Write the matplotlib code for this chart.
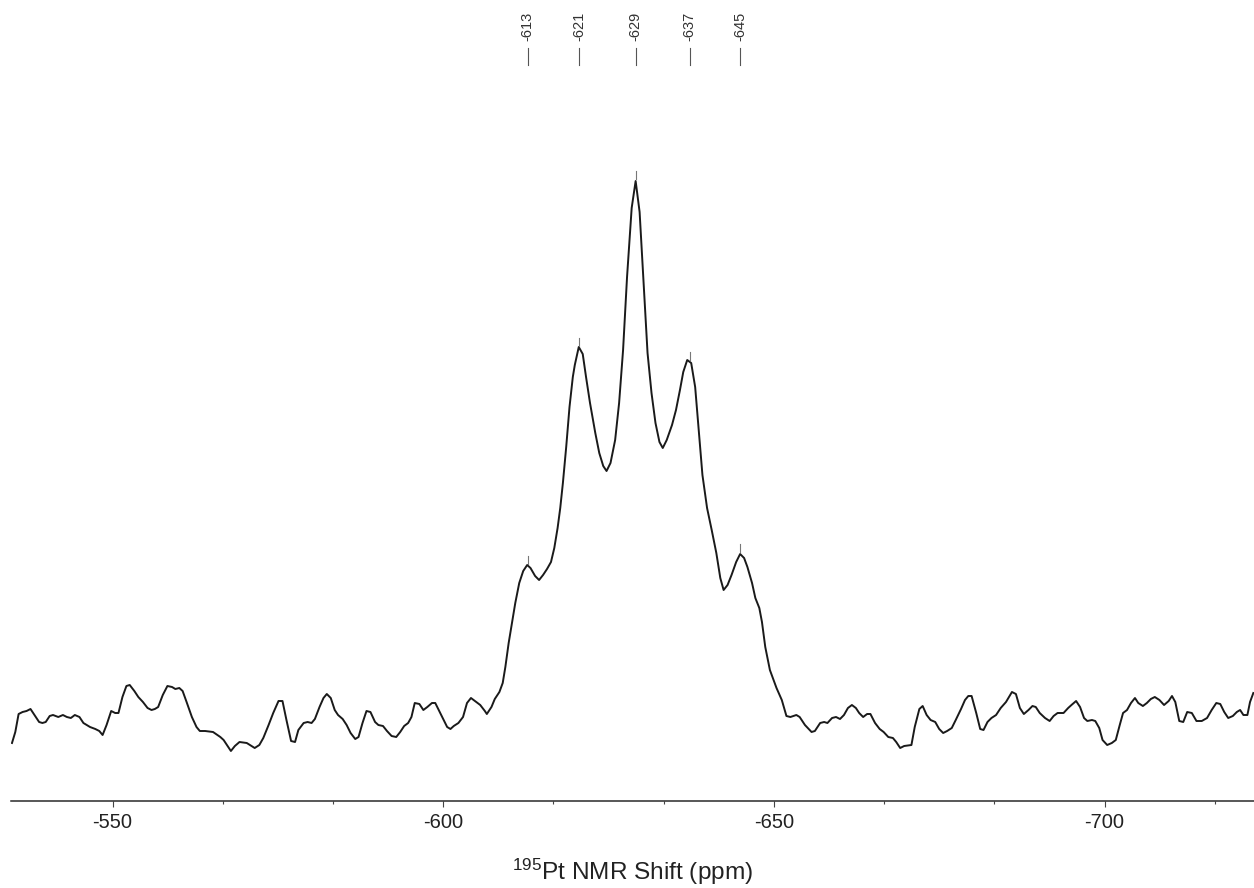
import numpy as np
import matplotlib
matplotlib.use("Agg")
import matplotlib.pyplot as plt
from matplotlib.ticker import MultipleLocator, AutoMinorLocator
from matplotlib.transforms import blended_transform_factory

plt.rcParams['font.family'] = ['Liberation Sans', 'DejaVu Sans']
plt.rcParams['axes.unicode_minus'] = False
plt.rcParams['mathtext.fontset'] = 'custom'
plt.rcParams['mathtext.rm'] = 'Liberation Sans'
plt.rcParams['mathtext.default'] = 'regular'

# ---- data: 195Pt NMR spectrum (chemical shift in ppm, intensity in arbitrary units)
shift_ppm = [
    -534.8, -535.3, -535.8, -536.4, -537.0, -537.6, -538.3, -538.9, -539.4, -539.9,
    -540.5, -541.0, -541.8, -542.5, -543.1, -543.7, -544.3, -545.0, -545.6, -546.6,
    -547.4, -548.0, -548.5, -549.1, -549.8, -550.4, -550.9, -551.5, -552.1, -552.6,
    -553.3, -553.9, -554.6, -555.3, -555.9, -556.4, -556.9, -557.6, -558.3, -559.0,
    -559.5, -560.1, -560.6, -561.2, -562.0, -562.7, -563.2, -564.0, -565.2, -566.3,
    -566.8, -567.3, -567.9, -568.5, -569.2, -570.3, -571.5, -572.2, -572.8, -573.6,
    -574.3, -575.1, -575.7, -576.3, -577.0, -577.6, -578.1, -578.9, -579.5, -580.1,
    -580.6, -581.3, -581.9, -582.4, -583.0, -583.6, -584.1, -584.8, -585.4, -586.0,
    -586.7, -587.2, -587.8, -588.4, -589.0, -589.7, -590.2, -590.9, -591.5, -592.2,
    -592.9, -593.5, -594.1, -594.7, -595.2, -595.7, -596.4, -597.0, -597.6, -598.3,
    -598.8, -599.4, -600.0, -600.6, -601.1, -601.6, -602.3, -603.0, -603.6, -604.2,
    -604.8, -605.6, -606.3, -606.6, -607.3, -607.8, -608.5, -609.0, -609.4, -609.9,
    -610.4, -610.9, -611.5, -612.1, -612.7, -613.2, -613.9, -614.5, -615.1, -615.7,
    -616.3, -616.8, -617.3, -617.7, -618.1, -618.6, -619.1, -619.6, -619.9, -620.5,
    -621.1, -621.6, -622.2, -623.0, -623.6, -624.2, -624.7, -625.3, -626.0, -626.6,
    -627.2, -627.8, -628.5, -629.1, -629.7, -630.3, -630.9, -631.5, -632.1, -632.7,
    -633.2, -633.8, -634.6, -635.2, -635.8, -636.3, -636.9, -637.5, -638.1, -638.6,
    -639.2, -639.9, -640.6, -641.3, -641.9, -642.4, -643.0, -643.6, -644.3, -644.9,
    -645.5, -646.0, -646.7, -647.2, -647.8, -648.2, -648.7, -649.4, -650.4, -651.2,
    -651.9, -652.5, -653.4, -653.9, -654.7, -655.7, -656.2, -657.0, -657.6, -658.1,
    -658.8, -659.4, -660.0, -660.6, -661.2, -661.8, -662.4, -662.9, -663.5, -664.1,
    -664.6, -665.3, -666.0, -666.6, -667.3, -668.0, -668.5, -669.1, -669.7, -670.8,
    -671.3, -672.0, -672.5, -673.1, -673.7, -674.4, -675.0, -675.6, -676.2, -676.9,
    -677.5, -678.3, -678.9, -679.4, -679.9, -680.6, -681.2, -681.7, -682.3, -682.9,
    -683.6, -684.3, -685.1, -686.0, -686.6, -687.2, -687.8, -688.5, -689.1, -689.6,
    -690.2, -691.0, -691.7, -692.3, -692.9, -693.8, -694.5, -695.0, -695.7, -696.3,
    -696.9, -697.4, -698.1, -698.6, -699.2, -699.7, -700.4, -701.1, -701.7, -702.3,
    -702.8, -703.4, -704.0, -704.6, -705.1, -705.8, -706.4, -707.0, -707.6, -708.3,
    -709.0, -709.7, -710.2, -710.7, -711.3, -711.9, -712.5, -713.2, -713.9, -714.7,
    -715.5, -716.2, -716.9, -717.5, -718.1, -718.7, -719.4, -720.0, -720.5, -721.0,
    -721.6, -722.0, -722.5,
]
intensity = [
    63, 74, 92, 94, 95, 97, 90, 84, 83, 84,
    90, 91, 89, 91, 89, 88, 91, 89, 83, 79,
    77, 75, 71, 81, 95, 93, 93, 109, 120, 121,
    115, 109, 104, 98, 96, 97, 99, 111, 120, 119,
    117, 118, 115, 104, 89, 79, 75, 75, 74, 69,
    66, 61, 55, 60, 64, 63, 58, 61, 68, 81,
    93, 105, 105, 86, 65, 64, 76, 83, 84, 83,
    87, 99, 108, 112, 108, 96, 91, 87, 81, 73,
    67, 69, 83, 95, 94, 84, 81, 80, 75, 70,
    69, 74, 80, 83, 89, 103, 102, 96, 99, 103,
    103, 95, 87, 79, 77, 80, 83, 89, 103, 108,
    105, 101, 95, 92, 99, 107, 114, 123, 139, 163,
    183, 203, 223, 235, 241, 238, 230, 226, 231, 237,
    244, 258, 278, 298, 323, 359, 399, 429, 441, 459,
    452, 429, 403, 373, 353, 340, 335, 343, 366, 403,
    456, 529, 598, 625, 594, 523, 453, 413, 383, 364,
    358, 366, 381, 396, 416, 434, 446, 443, 419, 379,
    331, 298, 276, 253, 228, 216, 221, 231, 244, 252,
    248, 239, 223, 208, 198, 184, 159, 136, 118, 106,
    90, 89, 91, 89, 81, 74, 75, 83, 84, 83,
    88, 89, 87, 91, 98, 101, 98, 93, 89, 92,
    92, 83, 77, 74, 69, 68, 64, 58, 60, 61,
    79, 97, 100, 91, 86, 84, 77, 73, 75, 78,
    86, 97, 106, 110, 110, 93, 77, 76, 84, 88,
    91, 98, 104, 114, 112, 98, 92, 96, 100, 99,
    93, 88, 85, 90, 93, 93, 98, 101, 105, 99,
    88, 85, 86, 85, 78, 66, 61, 63, 66, 81,
    93, 96, 103, 108, 103, 100, 103, 107, 109, 106,
    101, 105, 110, 104, 85, 84, 94, 93, 85, 85,
    88, 96, 103, 102, 94, 88, 90, 94, 96, 91,
    91, 104, 113,
]

# picked peaks
peak_ppm = [-612.8, -620.6, -629.1, -637.3, -644.9]
peak_labels = ["-613", "-621", "-629", "-637", "-645"]

major_ticks = [-550, -600, -650, -700]
x_limits = (-534.65, -722.6)

W, H = 1254, 888
fig = plt.figure(figsize=(W / 100, H / 100), dpi=100)
ax = fig.add_axes([11 / W, 1 - 801 / H, 1 - 11 / W, (801 - 100) / H])

ax.plot(shift_ppm, intensity, color='#1a1a1a', lw=1.4, solid_joinstyle='round')
ax.set_xlim(*x_limits)
ax.set_ylim(5, 706)

for s in ['top', 'left', 'right']:
    ax.spines[s].set_visible(False)
ax.spines['bottom'].set_color('#2a2a2a')
ax.spines['bottom'].set_linewidth(1.1)
ax.set_yticks([])

ax.xaxis.set_major_locator(MultipleLocator(50))
ax.xaxis.set_minor_locator(AutoMinorLocator(3))
ax.tick_params(axis='x', which='major', length=4.5, width=0.8, color='#444444',
               labelsize=14.5, labelcolor='#222222', pad=4)
ax.tick_params(axis='x', which='minor', length=2.3, width=0.8, color='#444444')
ax.set_xticks(major_ticks)
ax.set_xticklabels([str(t) for t in major_ticks])

lab = ax.set_xlabel('$^{195}$Pt NMR Shift (ppm)', fontsize=17.6, color='#222222', va='baseline')
ax.xaxis.set_label_coords(0.5, (801 - 880) / 701)

# peak markers and labels
heights = np.interp(peak_ppm, shift_ppm[::-1], intensity[::-1])
trans_fig = blended_transform_factory(ax.transData, fig.transFigure)
for p, h, t in zip(peak_ppm, heights, peak_labels):
    ax.plot([p, p], [h + 2, h + 10], color='#777777', lw=0.8, clip_on=False)
    ax.plot([p, p], [1 - 65 / H, 1 - 48 / H], color='#555555', lw=0.8,
            transform=trans_fig, clip_on=False)
    ax.text(p, 1 - 41 / H, t, rotation=90, ha='center', va='bottom',
            fontsize=10.5, color='#333333', transform=trans_fig)

fig.savefig('out.png', dpi=100)
